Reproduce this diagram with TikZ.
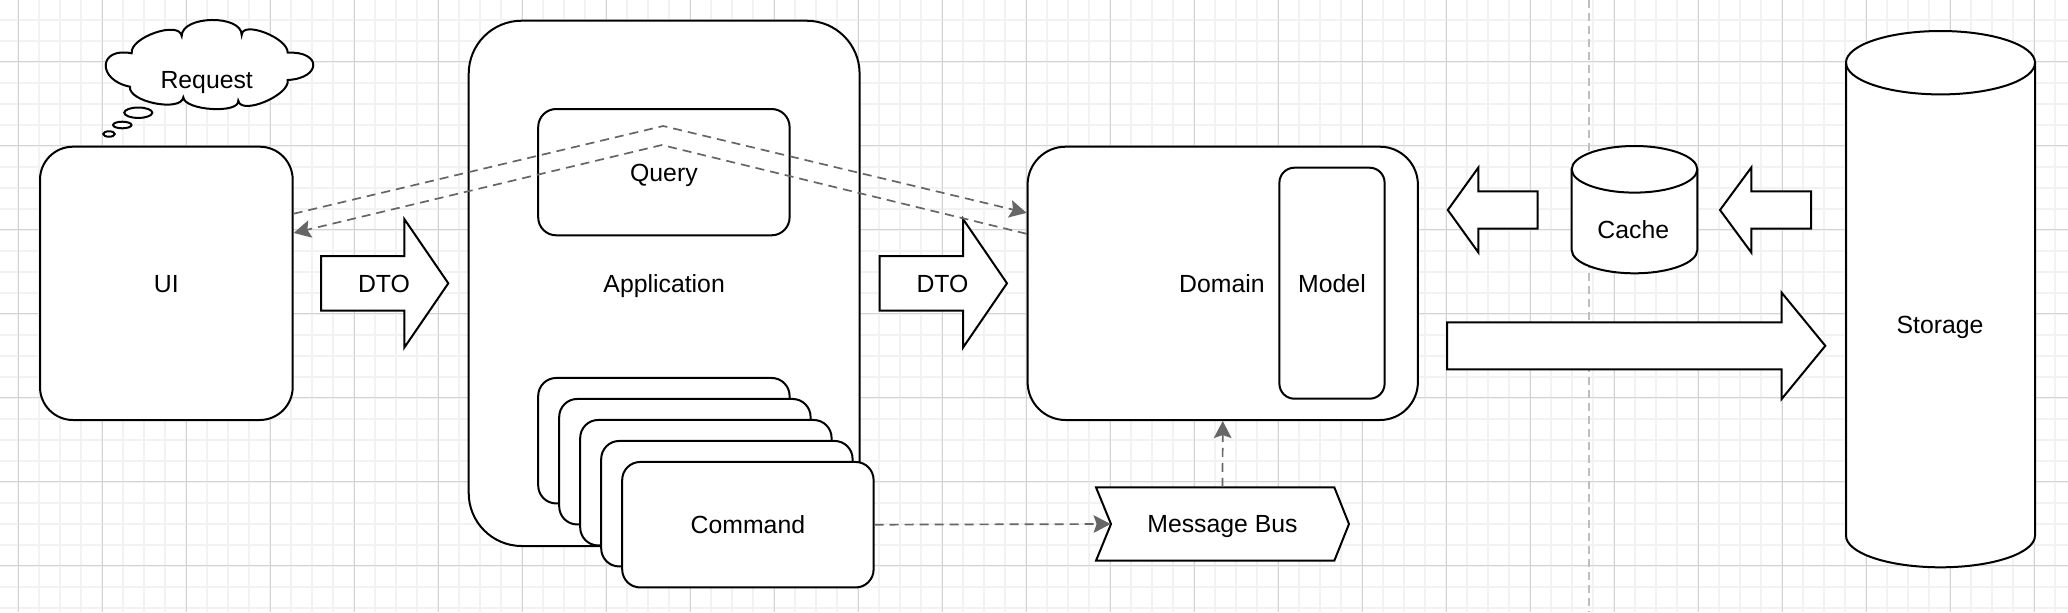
\documentclass[tikz,border=0pt]{standalone}
\usepackage{fontspec}
\setmainfont{Liberation Sans}
\usetikzlibrary{arrows.meta,calc}
\definecolor{gridminor}{RGB}{242,242,242}
\definecolor{gridmajor}{RGB}{212,212,212}
\definecolor{conn}{RGB}{102,102,102}
\definecolor{divider}{RGB}{190,190,190}
\tikzset{
  shapeline/.style={draw=black, line width=1pt, fill=white},
  rbox/.style={shapeline, rounded corners=#1, inner sep=0pt},
  rbox/.default=10pt,
  lbl/.style={font=\fontsize{12.4}{15}\selectfont, inner sep=0pt, text=black,
    text height=8.9pt, text depth=0pt},
  dashconn/.style={draw=conn, line width=0.85pt, dash pattern=on 4.5pt off 3pt,
    -{Stealth[length=8.5pt,width=8.8pt,inset=1.5pt]}},
  minorln/.style={draw=gridminor, line width=1pt},
  majorln/.style={draw=gridmajor, line width=0.5pt},
}
\begin{document}
\begin{tikzpicture}[x=0.5pt,y=-0.5pt]
\useasboundingbox (0,0) rectangle (2068,612);
\fill[white] (0,0) rectangle (2068,612);
% grid
\foreach \i in {0,...,99} \draw[minorln] ({-2.7+21*\i},0) -- ({-2.7+21*\i},612);
\foreach \j in {0,...,29} \draw[minorln] (0,{-1.3+21*\j}) -- (2068,{-1.3+21*\j});
\foreach \i in {0,...,24} \draw[majorln] ({18.3+84*\i},0) -- ({18.3+84*\i},612);
\foreach \j in {0,...,6} \draw[majorln] (0,{61.7+84*\j}) -- (2068,{61.7+84*\j});
% divider
\draw[divider, line width=0.75pt, dash pattern=on 4pt off 2.5pt] (1589,0) -- (1589,612);

% UI
\node[rbox=16.5pt, minimum width=126.35pt, minimum height=136.65pt, lbl] (ui) at (166.35,283.35) {UI};

% Request cloud
\draw[shapeline] (131.7,53.3)
  .. controls (129.4,37.4) and (179.4,20.1) .. (181.7,36)
  .. controls (181.7,15.3) and (241.7,14.3) .. (241.7,35)
  .. controls (242.1,20.1) and (288.1,37.8) .. (287.7,52.7)
  .. controls (321.8,50.9) and (321.8,78.2) .. (287.7,80)
  .. controls (290.4,95.1) and (241,115.8) .. (238.3,100.7)
  .. controls (239.5,114) and (184.5,110.6) .. (183.3,97.3)
  .. controls (181.1,112.4) and (127.8,101.8) .. (130,86.7)
  .. controls (96.5,80) and (98.2,46.6) .. (131.7,53.3) -- cycle;
\node[lbl] (req) at (206.7,80) {Request};
\draw[shapeline] (138.3,112.7) ellipse (14 and 5.2);
\draw[shapeline] (122.3,125) ellipse (9.2 and 3.3);
\draw[shapeline] (109,134) ellipse (5.8 and 2.7);

% DTO arrow 1
\draw[shapeline] (321,256) -- (404.3,256) -- (404.3,219) -- (448.3,283.3) -- (404.3,347.6) -- (404.3,310.6) -- (321,310.6) -- cycle;
\node[lbl] (dto1) at (384,283.3) {DTO};

% Application
\node[rbox=26.5pt, minimum width=195.45pt, minimum height=262.65pt, lbl] (app) at (664.15,283.35) {Application};
\node[rbox=9pt, minimum width=125.7pt, minimum height=63.15pt, lbl] (query) at (663.9,172.15) {Query};
\foreach \k in {0,...,3}
  \node[rbox=9pt, minimum width=125.7pt, minimum height=62.75pt] (card\k) at ({663.9+21*\k},{440.7+21*\k}) {};
\node[rbox=9pt, minimum width=125.7pt, minimum height=62.75pt, lbl] (cmd) at (747.9,524.7) {Command};

% DTO arrow 2
\draw[shapeline] (879.7,256) -- (963,256) -- (963,219) -- (1007,283.3) -- (963,347.6) -- (963,310.6) -- (879.7,310.6) -- cycle;
\node[lbl] (dto2) at (942.5,283.3) {DTO};

% Domain
\node[rbox=19pt, minimum width=195.15pt, minimum height=136.65pt] (dom) at (1222.75,283.35) {};
\node[lbl, anchor=east] (domlbl) at (1265,283.3) {Domain};
\node[rbox=7.5pt, minimum width=52.6pt, minimum height=115.5pt, lbl] (model) at (1332,283.2) {Model};

% Message bus
\draw[shapeline] (1096,487.3) -- (1334.3,487.3) -- (1349,524) -- (1334.3,560.7) -- (1096,560.7) -- (1111,524) -- cycle;
\node[lbl, minimum width=126.5pt, minimum height=36.7pt] (bus) at (1222.5,524) {Message Bus};
\coordinate (busin) at ($(bus.west)+(15,0)$);

% arrows to/from cache & storage
\draw[shapeline] (1537.7,191.3) -- (1478.4,191.3) -- (1478.4,167.5) -- (1447.8,210) -- (1478.4,252.5) -- (1478.4,228.7) -- (1537.7,228.7) -- cycle;
\draw[shapeline] (1811,191.3) -- (1751.3,191.3) -- (1751.3,167.5) -- (1720,210) -- (1751.3,252.5) -- (1751.3,228.7) -- (1811,228.7) -- cycle;
\draw[shapeline] (1447,322.3) -- (1781.7,322.3) -- (1781.7,292.7) -- (1825.3,345.8) -- (1781.7,398.9) -- (1781.7,369.3) -- (1447,369.3) -- cycle;

% Cache cylinder
\draw[shapeline] (1571.7,169.3) -- (1571.7,250) arc (180:0:62.8 and 23.3) -- (1697.3,169.3) arc (0:-180:62.8 and 23.3) -- cycle;
\draw[line width=1pt] (1571.7,169.3) arc (180:0:62.8 and 23.3);
\node[lbl] (cache) at (1633.3,230) {Cache};

% Storage cylinder
\draw[shapeline] (1846,62.7) -- (1846,535.6) arc (180:0:94.5 and 31.7) -- (2035,62.7) arc (0:-180:94.5 and 31.7) -- cycle;
\draw[line width=1pt] (1846,62.7) arc (180:0:94.5 and 31.7);
\node[lbl] (storage) at (1940,325) {Storage};

% dashed connectors
\coordinate (wp1) at (663.2,126);
\coordinate (wp2) at (661.9,145);
\draw[dashconn] ($(ui.north east)!0.247!(ui.south east)$) -- (wp1) -- ($(dom.north west)!0.244!(dom.south west)$);
\draw[dashconn] ($(dom.north west)!0.32!(dom.south west)$) -- (wp2) -- ($(ui.north east)!0.317!(ui.south east)$);
\draw[dashconn] (cmd.east) -- (busin);
\draw[dashconn] (bus.north) -- (dom.south);
\end{tikzpicture}
\end{document}
